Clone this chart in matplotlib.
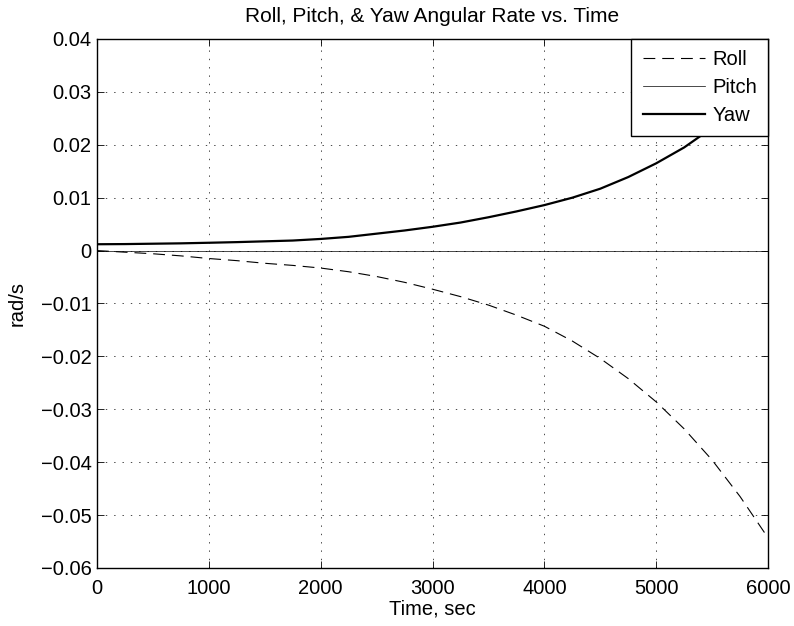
import numpy as np
import matplotlib.pyplot as plt
from matplotlib.ticker import FuncFormatter

# angular rates sampled every 250 s
time_s = [0, 250, 500, 750, 1000, 1250, 1500, 1750, 2000, 2250, 2500, 2750, 3000,
          3250, 3500, 3750, 4000, 4250, 4500, 4750, 5000, 5250, 5500, 5750, 6000]
roll = [0.0, -0.0003, -0.0006, -0.0010, -0.0015, -0.0019, -0.0024, -0.0028,
        -0.0033, -0.0040, -0.0049, -0.0060, -0.0073, -0.0087, -0.0103, -0.0122,
        -0.0143, -0.0171, -0.0204, -0.0242, -0.0286, -0.0337, -0.0396, -0.0465,
        -0.0543]
pitch = [0.0] * len(time_s)
yaw = [0.0012, 0.00123, 0.0013, 0.00137, 0.00148, 0.0016, 0.00175, 0.0019,
       0.0022, 0.0026, 0.0032, 0.0038, 0.0045, 0.0053, 0.0063, 0.0074,
       0.0086, 0.0100, 0.0117, 0.0139, 0.0165, 0.0195, 0.0232, 0.0275, 0.0325]

x_ticks = [0, 1000, 2000, 3000, 4000, 5000, 6000]
y_ticks = [-0.06, -0.05, -0.04, -0.03, -0.02, -0.01, 0, 0.01, 0.02, 0.03, 0.04]

plt.rcParams['font.family'] = ['Liberation Sans', 'DejaVu Sans']
plt.rcParams['lines.scale_dashes'] = False

fig = plt.figure(figsize=(7.94, 6.26), dpi=100)
ax = fig.add_axes([0.1222, 0.0927, 0.8451, 0.845])

ax.plot(time_s, roll, color='k', linewidth=0.8, dashes=(8.5, 5), label='Roll')
ax.plot(time_s, pitch, color='k', linewidth=0.5, label='Pitch')
ax.plot(time_s, yaw, color='k', linewidth=1.6, label='Yaw')

ax.set_xlim(0, 6000)
ax.set_ylim(-0.06, 0.04)
ax.set_xticks(x_ticks)
ax.set_yticks(y_ticks)
ax.yaxis.set_major_formatter(FuncFormatter(
    lambda v, pos: '0' if abs(v) < 1e-12 else ('%.2f' % v).replace('-', '\u2212')))

ax.grid(True, color='k', linestyle=(0, (1, 5)), linewidth=0.5)
ax.tick_params(direction='in', length=5, width=0.6, top=True, right=True,
               labelsize=14.5, colors='k')
ax.tick_params(axis='x', pad=8)
ax.tick_params(axis='y', pad=4)
for s in ax.spines.values():
    s.set_linewidth(1.0)

ax.set_title('Roll, Pitch, & Yaw Angular Rate vs. Time', fontsize=15, pad=12)
ax.set_xlabel('Time, sec', fontsize=14.5, labelpad=1)
ax.set_ylabel('rad/s', fontsize=14.5, labelpad=10)

leg = ax.legend(loc='upper right', bbox_to_anchor=(1, 1), borderaxespad=0,
                fontsize=14.5, fancybox=False, framealpha=1, edgecolor='k',
                handlelength=3.1, handletextpad=0.36, labelspacing=0.45,
                borderpad=0.55)
leg.get_frame().set_linewidth(1.0)

fig.savefig('out.png', dpi=100)
